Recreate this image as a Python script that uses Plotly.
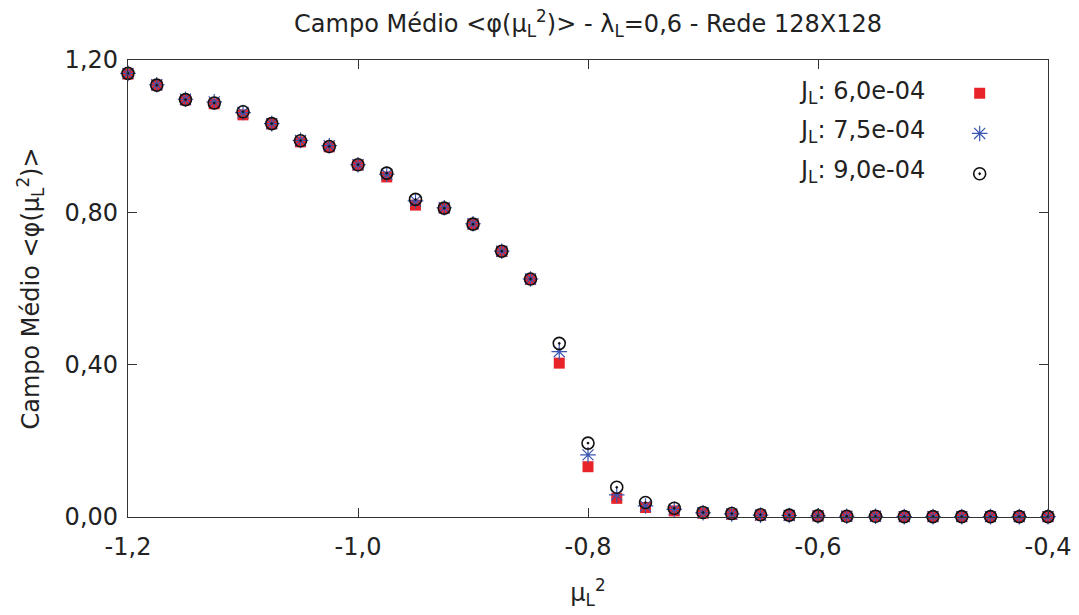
import plotly.graph_objects as go

mu2 = [round(-1.2 + 0.025 * i, 3) for i in range(33)]

phi_j60 = [1.163, 1.134, 1.095, 1.085, 1.056, 1.032, 0.985, 0.972, 0.924, 0.893,
           0.819, 0.811, 0.769, 0.697, 0.624, 0.404, 0.132, 0.049, 0.025, 0.016,
           0.010, 0.007, 0.005, 0.004, 0.003, 0.002, 0.002, 0.001, 0.001, 0.001,
           0.001, 0.001, 0.001]
phi_j75 = [1.165, 1.135, 1.097, 1.090, 1.062, 1.033, 0.989, 0.975, 0.925, 0.900,
           0.830, 0.812, 0.770, 0.698, 0.625, 0.434, 0.163, 0.058, 0.029, 0.020,
           0.011, 0.008, 0.005, 0.004, 0.003, 0.002, 0.002, 0.001, 0.001, 0.001,
           0.001, 0.001, 0.001]
phi_j90 = [1.165, 1.134, 1.096, 1.087, 1.064, 1.033, 0.988, 0.973, 0.925, 0.903,
           0.834, 0.811, 0.769, 0.698, 0.625, 0.456, 0.194, 0.078, 0.038, 0.023,
           0.012, 0.009, 0.006, 0.005, 0.003, 0.002, 0.002, 0.001, 0.001, 0.001,
           0.001, 0.001, 0.001]

labels = ["J<sub>L</sub>: 6,0e-04", "J<sub>L</sub>: 7,5e-04", "J<sub>L</sub>: 9,0e-04"]

x_ticks = [-1.2, -1.0, -0.8, -0.6, -0.4]
x_ticktext = ["-1,2", "-1,0", "-0,8", "-0,6", "-0,4"]
y_ticks = [0.0, 0.4, 0.8, 1.2]
y_ticktext = ["0,00", "0,40", "0,80", "1,20"]

FONT = "DejaVu Sans"
FS = 24
RED = "#e8242a"
BLUE = "#3b55b0"
BLACK = "#111111"
TXT = "#222222"

fig = go.Figure()
fig.add_trace(go.Scatter(x=mu2, y=phi_j60, mode="markers", name="",
                         legendgroup="a", cliponaxis=False,
                         marker=dict(symbol="square", size=11, color=RED,
                                     line=dict(width=0))))
fig.add_trace(go.Scatter(x=mu2, y=phi_j75, mode="markers", name="",
                         legendgroup="b", cliponaxis=False,
                         marker=dict(symbol="asterisk-open", size=13, color=BLUE,
                                     line=dict(width=1.2, color=BLUE))))
fig.add_trace(go.Scatter(x=mu2, y=phi_j90, mode="markers", name="",
                         legendgroup="c", cliponaxis=False,
                         marker=dict(symbol="circle-open-dot", size=12, color=BLACK,
                                     line=dict(width=1.6, color=BLACK))))

# legend text (gnuplot style: text left, symbol right)
for i, lab in enumerate(labels):
    fig.add_annotation(text=lab, xref="paper", yref="paper",
                       x=0.868, y=1 - (32 + 39.5 * i) / 457, xanchor="right",
                       yanchor="middle", showarrow=False,
                       font=dict(family=FONT, size=FS, color=TXT))

axis_common = dict(showgrid=False, zeroline=False, showline=True, linecolor="#333333",
                   linewidth=1.3, mirror="ticks", ticks="inside", ticklen=9,
                   tickwidth=1.2, tickcolor="#333333",
                   tickfont=dict(family=FONT, size=FS, color=TXT))

fig.update_xaxes(range=[-1.2, -0.4], tickvals=x_ticks, ticktext=x_ticktext,
                 ticklabelstandoff=8, automargin=False,
                 title=dict(text="μ<sub>L</sub><sup>2</sup>", standoff=24,
                            font=dict(family=FONT, size=FS, color=TXT)),
                 **axis_common)
fig.update_yaxes(range=[0, 1.2], tickvals=y_ticks, ticktext=y_ticktext,
                 ticklabelstandoff=4, automargin=True,
                 title=dict(text="Campo Médio &lt;φ(μ<sub>L</sub><sup>2</sup>)&gt;", standoff=18,
                            font=dict(family=FONT, size=FS, color=TXT)),
                 **axis_common)

fig.update_layout(
    width=1079, height=615,
    margin=dict(l=128, r=31, t=60, b=98),
    paper_bgcolor="white", plot_bgcolor="white",
    font=dict(family=FONT, size=FS, color=TXT),
    title=dict(text="Campo Médio &lt;φ(μ<sub>L</sub><sup>2</sup>)&gt; - λ<sub>L</sub>=0,6 - Rede 128X128",
               x=0.545, xanchor="center", y=0.962, yanchor="middle",
               font=dict(family=FONT, size=FS, color=TXT)),
    showlegend=True,
    legend=dict(x=0.904, y=1 - 13 / 457, xanchor="left", yanchor="top",
                bgcolor="rgba(0,0,0,0)", borderwidth=0,
                traceorder="grouped", tracegroupgap=10,
                font=dict(family=FONT, size=21), itemwidth=30),
)

fig.write_html("out.html")
